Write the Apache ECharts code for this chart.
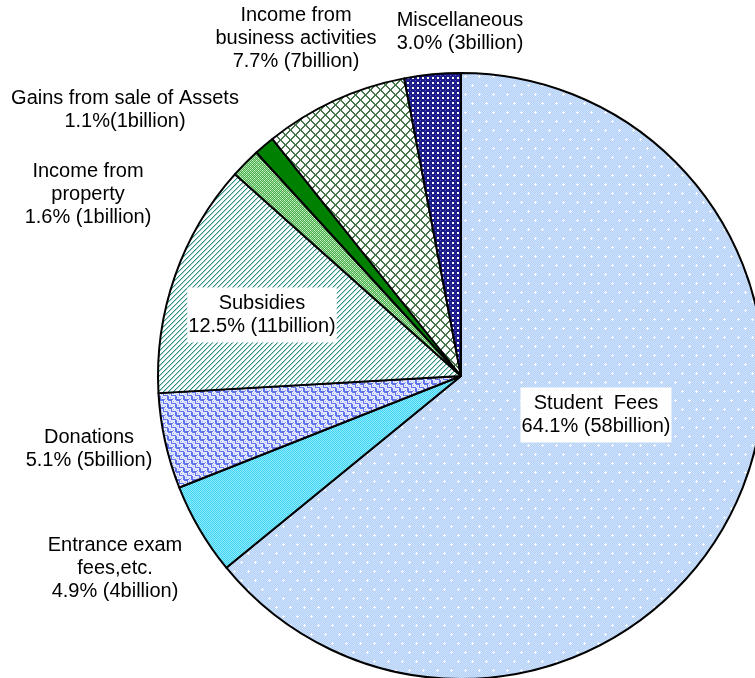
<!DOCTYPE html>
<html>
<head>
<meta charset="utf-8">
<script src="https://cdn.jsdelivr.net/npm/echarts@6/dist/echarts.min.js"></script>
<style>
html,body{margin:0;padding:0;background:#fff;}
#chart{width:755px;height:678px;}
</style>
</head>
<body>
<div id="chart"></div>
<script>
// ---- data ----
const categories = [
  'Student  Fees',
  'Entrance exam\nfees,etc.',
  'Donations',
  'Subsidies',
  'Income from\nproperty',
  'Gains from sale of Assets',
  'Income from\nbusiness activities',
  'Miscellaneous'
];
const percents = [64.1, 4.9, 5.1, 12.5, 1.6, 1.1, 7.7, 3.0];
const billions = [58, 4, 5, 11, 1, 1, 7, 3];
const amountSep = [' ', ' ', ' ', ' ', ' ', '', ' ', ' '];

// ---- label layout (pixel anchors for label centers) ----
const labelAnchors = [
  [596, 415], [115, 568], [89, 449], [262, 315],
  [88, 194], [125, 110], [296, 38], [460, 32]
];
const boxedLabels = [true, false, false, true, false, false, false, false];

// ---- pattern tiles ----
function tile(w, h, draw) {
  const c = document.createElement('canvas');
  c.width = w; c.height = h;
  const g = c.getContext('2d');
  draw(g, w, h);
  return { image: c, repeat: 'repeat' };
}
function px(g, col, x, y, w, h) { g.fillStyle = col; g.fillRect(x, y, w || 1, h || 1); }

const patStudent = tile(14, 18, (g, w, h) => {
  for (let y = 0; y < h; y++) for (let x = 0; x < w; x++)
    px(g, (x + y) % 2 ? '#b4d0f6' : '#cfe2fb', x, y);
  [[3, 4], [10, 13]].forEach(([cx, cy]) => {
    px(g, '#fff', cx, cy); px(g, '#fff', cx - 1, cy); px(g, '#fff', cx + 1, cy);
    px(g, '#fff', cx, cy - 1); px(g, '#fff', cx, cy + 1);
  });
});
const patEntrance = tile(2, 2, (g) => {
  px(g, '#3fd6f6', 0, 0); px(g, '#3fd6f6', 1, 1);
  px(g, '#8fe9fb', 1, 0); px(g, '#8fe9fb', 0, 1);
});
const patDonation = tile(8, 8, (g) => {
  px(g, '#e4e8fe', 0, 0, 8, 8);
  const c = '#5f74ec';
  px(g, c, 0, 0, 4, 1); px(g, c, 3, 0, 1, 4);
  px(g, c, 4, 3, 4, 1); px(g, c, 7, 4, 1, 4);
  px(g, c, 0, 4, 1, 4); px(g, c, 1, 7, 3, 1);
  px(g, c, 4, 7, 1, 1);
  const d = '#9aa8f3';
  px(g, d, 1, 2, 1, 1); px(g, d, 5, 1, 1, 1); px(g, d, 2, 5, 1, 1); px(g, d, 5, 6, 1, 1);
});
const patSubsidy = tile(5, 5, (g) => {
  px(g, '#ffffff', 0, 0, 5, 5);
  for (let i = 0; i < 5; i++) {
    px(g, '#2f9088', i, 4 - i);
    px(g, '#a8d3ce', i, (5 - i) % 5);
  }
});
const patProperty = tile(4, 4, (g) => {
  for (let y = 0; y < 4; y++) for (let x = 0; x < 4; x++)
    px(g, (x + y) % 2 ? '#4cb34c' : '#9fdc9f', x, y);
  px(g, '#e8f8e8', 0, 0); px(g, '#e8f8e8', 2, 2);
});
const patBusiness = tile(10, 10, (g) => {
  px(g, '#ffffff', 0, 0, 10, 10);
  const c = '#46764a';
  for (let i = 0; i < 10; i++) {
    px(g, c, i, i); px(g, c, (i + 1) % 10, i);
    px(g, c, 9 - i, i); px(g, c, (10 - i) % 10, i);
  }
});
const patMisc = tile(5, 5, (g) => {
  px(g, '#1c1c8c', 0, 0, 5, 5);
  px(g, '#ffffff', 2, 2, 2, 2);
  px(g, '#5a5ab8', 0, 0);
});
const fills = [patStudent, patEntrance, patDonation, patSubsidy, patProperty,
  { solid: true }, patBusiness, patMisc];
const solidGreen = '#008000';

// ---- build series data ----
const seriesData = categories.map((name, i) => ({
  name: name,
  value: percents[i],
  itemStyle: { color: fills[i].solid ? solidGreen : fills[i] },
  label: boxedLabels[i]
    ? { backgroundColor: '#ffffff', padding: [5, 1, 4, 1] }
    : {}
}));

const chart = echarts.init(document.getElementById('chart'), null, { renderer: 'canvas' });
chart.setOption({
  backgroundColor: '#ffffff',
  animation: false,
  series: [{
    type: 'pie',
    center: [461, 376],
    radius: 303,
    startAngle: 90,
    clockwise: true,
    avoidLabelOverlap: false,
    silent: true,
    data: seriesData,
    itemStyle: { borderColor: '#000000', borderWidth: 2 },
    label: {
      show: true,
      position: 'inside',
      color: '#000000',
      fontFamily: '"Liberation Sans", Arial, sans-serif',
      fontSize: 20,
      lineHeight: 23,
      align: 'center',
      formatter: (p) => {
        const i = p.dataIndex;
        return categories[i] + '\n' + percents[i].toFixed(1) + '%' + amountSep[i] +
          '(' + billions[i] + 'billion)';
      }
    },
    labelLine: { show: false },
    labelLayout: (p) => ({
      x: labelAnchors[p.dataIndex][0],
      y: labelAnchors[p.dataIndex][1],
      align: 'center',
      verticalAlign: 'middle'
    })
  }]
});
</script>
</body>
</html>
